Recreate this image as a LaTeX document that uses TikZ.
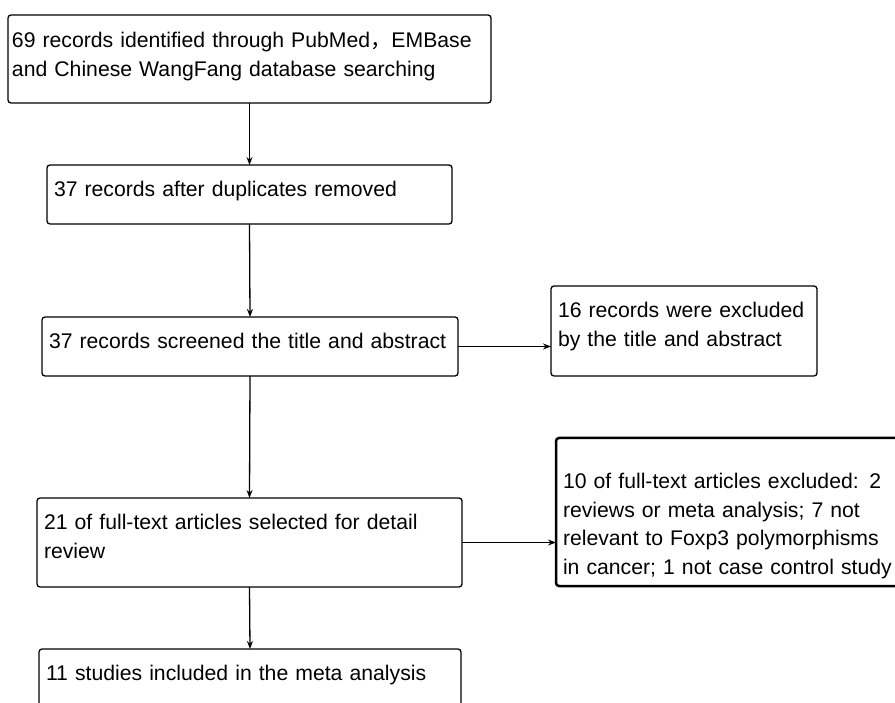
\documentclass[tikz,border=0pt]{standalone}
\usepackage{fontspec}
\setmainfont{Liberation Sans}
\newfontfamily\cjk{Noto Sans CJK SC}
\usetikzlibrary{arrows.meta}
\begin{document}
\begin{tikzpicture}[x=1pt,y=-1pt,>={Stealth[length=8pt,width=6pt]},line join=round,every node/.style={font=\fontsize{21.2}{29}\selectfont},
	stage/.style={draw,line width=1.3pt,rounded corners=3pt,anchor=north west,align=left,inner ysep=0pt,inner xsep=7pt,outer sep=0pt,text height=31.5pt},
	flow/.style={->,line width=1.3pt}]
	\useasboundingbox (0,0) rectangle (895,703);
	\node[stage,inner xsep=4pt,text width=475pt,text height=33pt,text depth=55pt] (search) at (8,15)
	{69 records identified through PubMed{\cjk ，}EMBase\\and Chinese WangFang database searching};
	\node[stage,text width=391pt,text depth=27.5pt] (dedup) at (47,165) {37 records after duplicates removed};
	\node[stage,text width=402pt,text depth=27.5pt] (screen) at (42,317) {37 records screened the title and abstract};
	\node[stage,text width=252pt,text depth=58.5pt] (exclA) at (551,286) {16 records were excluded\\by the title and abstract};
	\node[stage,text width=411pt,text depth=57.5pt] (fulltext) at (37,498) {21 of full-text articles selected for detail\\review};
	\node[stage,line width=2.5pt,text width=336pt,text height=50pt,text depth=98pt] (exclB) at (556,438)
	{10 of full-text articles excluded: 2\\reviews or meta analysis; 7 not\\relevant to Foxp3 polymorphisms\\in cancer; 1 not case control study};
	\node[stage,text width=408pt,text depth=48.5pt] (included) at (39,649) {11 studies included in the meta analysis};
	\draw[flow] (search.south -| dedup.north) -- (dedup.north);
	\draw[flow] (dedup.south) -- (screen.north);
	\draw[flow] (screen.east) -- (screen.east -| exclA.west);
	\draw[flow] (screen.south) -- (fulltext.north);
	\draw[flow] (fulltext.east) -- (fulltext.east -| exclB.west);
	\draw[flow] (fulltext.south) -- (included.north);
\end{tikzpicture}
\end{document}
